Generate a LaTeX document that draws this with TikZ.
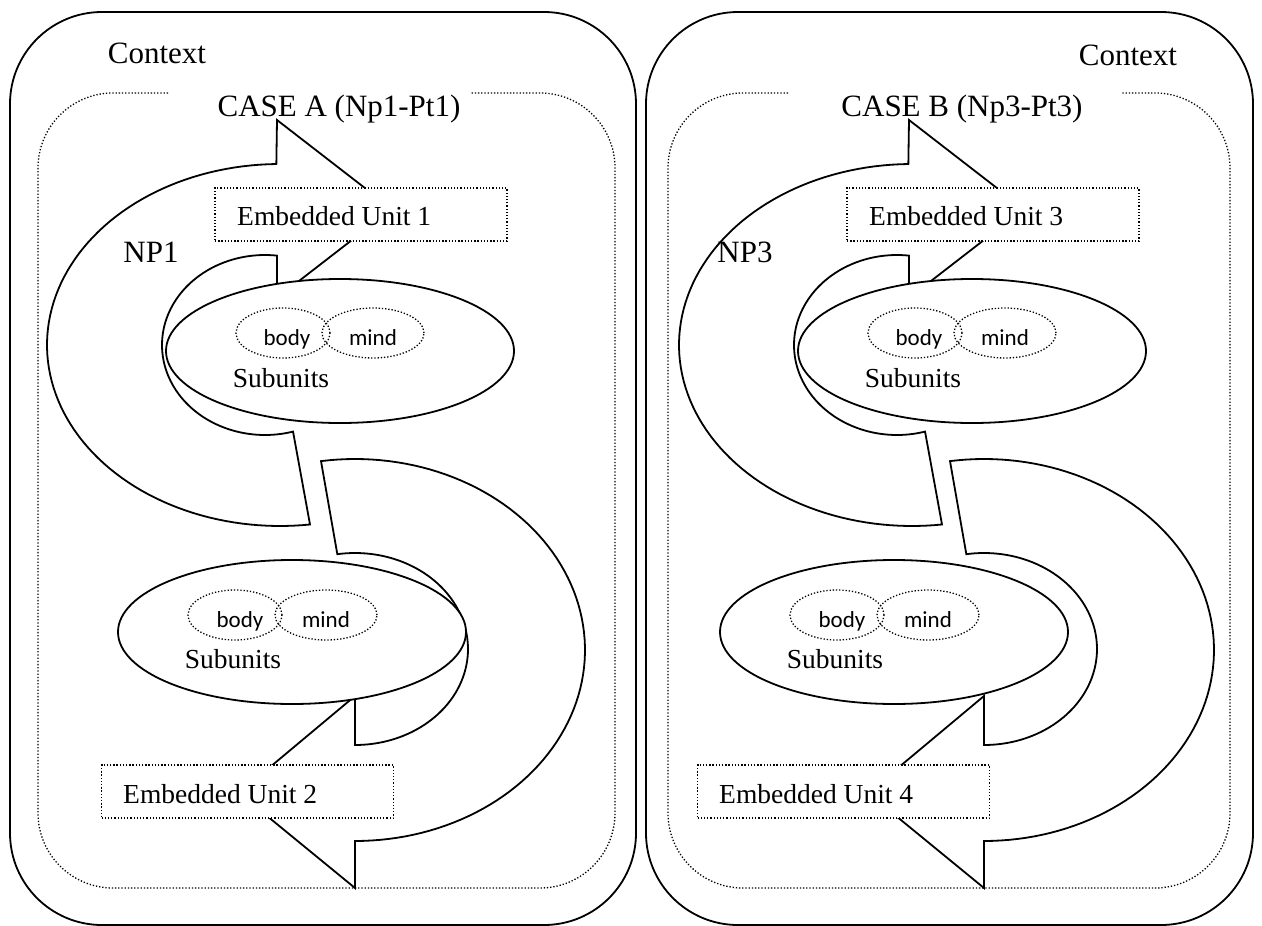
\documentclass[tikz,border=0pt]{standalone}
\usepackage{fontspec}
\setmainfont{Liberation Serif}
\newfontfamily\sansf{Carlito}
\usetikzlibrary{shapes.geometric}
\tikzset{
  bigtxt/.style={font=\fontsize{31}{36}\selectfont, inner sep=0pt, anchor=base},
  smalltxt/.style={font=\fontsize{27.5}{32}\selectfont, inner sep=0pt, anchor=base},
  subtxt/.style={font=\sansf\fontsize{23}{27}\selectfont, inner sep=0pt, anchor=base},
  frame/.style={draw, line width=1.8pt, rounded corners=92pt},
  dotline/.style={line width=1.3pt, dash pattern=on 1.3pt off 1.9pt},
  band/.style={draw, line width=1.8pt, fill=white, line join=miter},
  unit/.style={ellipse, draw, line width=1.8pt, fill=white, minimum width=348pt, minimum height=144pt, inner sep=0pt},
  bodypart/.style={ellipse, draw, dotline, minimum width=94pt, minimum height=50pt, inner sep=0pt},
  mindpart/.style={ellipse, draw, dotline, minimum width=102pt, minimum height=50pt, inner sep=0pt},
  embox/.style={rectangle, draw, dotline, fill=white, minimum width=292pt, minimum height=53pt, inner sep=0pt},
}
\begin{document}
\begin{tikzpicture}[x=1pt, y=-1pt]
\useasboundingbox (0,0) rectangle (1262,926);

% ---------- frames ----------
\draw[frame] (10,12) rectangle (636,925);
\draw[frame] (646,12) rectangle (1253,925);
\draw[dotline, rounded corners=75pt] (168,93) -- (38,93) -- (38,888) -- (615,888) -- (615,93) -- (470,93);
\draw[dotline, rounded corners=75pt] (788,93) -- (668,93) -- (668,888) -- (1230,888) -- (1230,93) -- (1122,93);

% ================= PANEL A =================
% upper curved arrow
\draw[band] plot[domain=82.6:269.1, samples=90, variable=\t] ({280+233*cos(\t)},{345+181*sin(\t)})
  -- (277,120) -- (392,209) -- (277,298) -- (277,255)
  -- plot[domain=-276.7:-74.2, samples=90, variable=\t] ({265+103*cos(-\t)},{345+90*sin(-\t)}) -- cycle;
\node[unit] (uA) at (340,351) {};
\node[bodypart] (bA1) at (283,333) {};
\node[mindpart] (mA1) at (373,333) {};
\node[subtxt] (tbA1) at (287,345) {body};
\node[subtxt] (tmA1) at (373,345) {mind};
\node[smalltxt] (suA1) at (281,387) {Subunits};
\node[embox] (eu1) at (361,214.5) {};
\node[smalltxt, anchor=base west] (eu1t) at (237,225) {Embedded Unit 1};

% lower curved arrow
\draw[band] plot[domain=261.5:450, samples=90, variable=\t] ({355+230*cos(\t)},{650+191*sin(\t)})
  -- (355,888) -- (239,793) -- (355,696) -- (355,745)
  -- plot[domain=-450:-261, samples=90, variable=\t] ({355+113*cos(-\t)},{649+96*sin(-\t)}) -- cycle;
\node[unit] (lA) at (292,632) {};
\node[bodypart] (bA2) at (235,615) {};
\node[mindpart] (mA2) at (326,615) {};
\node[subtxt] (tbA2) at (240,627) {body};
\node[subtxt] (tmA2) at (326,627) {mind};
\node[smalltxt] (suA2) at (233,668) {Subunits};
\node[embox] (eu2) at (247.5,791.5) {};
\node[smalltxt, anchor=base west] (eu2t) at (123,803) {Embedded Unit 2};

\node[bigtxt] (ctxA) at (157,63) {Context};
\node[bigtxt] (caseA) at (339,116) {CASE A (Np1-Pt1)};
\node[bigtxt] (np1) at (151,262) {NP1};

% ================= PANEL B =================
\begin{scope}[xshift=632pt]
\draw[band] plot[domain=82.6:269.1, samples=90, variable=\t] ({280+233*cos(\t)},{345+181*sin(\t)})
  -- (277,120) -- (392,209) -- (277,298) -- (277,255)
  -- plot[domain=-276.7:-74.2, samples=90, variable=\t] ({265+103*cos(-\t)},{345+90*sin(-\t)}) -- cycle;
\node[unit] (uB) at (340,351) {};
\node[bodypart] (bB1) at (283,333) {};
\node[mindpart] (mB1) at (373,333) {};
\node[subtxt] (tbB1) at (287,345) {body};
\node[subtxt] (tmB1) at (373,345) {mind};
\node[smalltxt] (suB1) at (281,387) {Subunits};
\node[embox] (eu3) at (361,214.5) {};
\node[smalltxt, anchor=base west] (eu3t) at (237,225) {Embedded Unit 3};
\end{scope}

\begin{scope}[xshift=629pt]
\draw[band] plot[domain=261.5:450, samples=90, variable=\t] ({355+230*cos(\t)},{650+191*sin(\t)})
  -- (355,888) -- (239,793) -- (355,696) -- (355,745)
  -- plot[domain=-450:-261, samples=90, variable=\t] ({355+113*cos(-\t)},{649+96*sin(-\t)}) -- cycle;
\end{scope}
\begin{scope}[xshift=602pt]
\node[unit] (lB) at (292,632) {};
\node[bodypart] (bB2) at (235,615) {};
\node[mindpart] (mB2) at (326,615) {};
\node[subtxt] (tbB2) at (240,627) {body};
\node[subtxt] (tmB2) at (326,627) {mind};
\node[smalltxt] (suB2) at (233,668) {Subunits};
\end{scope}
\begin{scope}[xshift=596pt]
\node[embox] (eu4) at (247.5,791.5) {};
\node[smalltxt, anchor=base west] (eu4t) at (123,803) {Embedded Unit 4};
\end{scope}

\node[bigtxt] (ctxB) at (1128,65) {Context};
\node[bigtxt] (caseB) at (962,116) {CASE B (Np3-Pt3)};
\node[bigtxt] (np3) at (745,262) {NP3};
\end{tikzpicture}
\end{document}
